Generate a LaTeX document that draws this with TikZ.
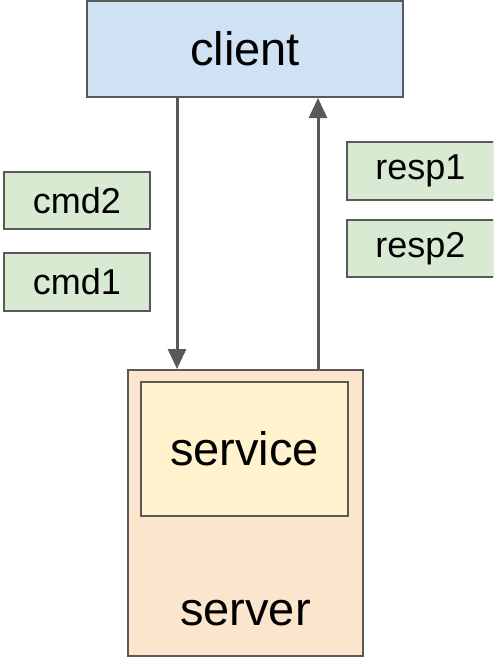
\documentclass[tikz,border=0pt]{standalone}
\usepackage{fontspec}
\setmainfont{Liberation Sans}
\usetikzlibrary{arrows.meta}
\definecolor{clientblue}{HTML}{CFE2F3}
\definecolor{msggreen}{HTML}{D9EAD3}
\definecolor{serverpeach}{HTML}{FCE5CD}
\definecolor{serviceyellow}{HTML}{FFF2CC}
\definecolor{edgegray}{HTML}{595959}
\tikzset{
  box/.style={draw=edgegray, line width=2pt, rectangle, inner sep=0pt},
  bigtext/.style={font=\fontsize{47}{56}\selectfont},
  msg/.style={box, line width=1.5pt, fill=msggreen, minimum width=146pt,
    font=\fontsize{36}{43}\selectfont},
  flow/.style={draw=edgegray, line width=3pt,
    -{Triangle[length=20pt,width=18pt]}}
}
\begin{document}
\begin{tikzpicture}[x=1pt,y=-1pt]
  \useasboundingbox (0,0) rectangle (493,659);
  \begin{scope}
    \clip (0,0) rectangle (493,659);
    % client at the top
    \node[box, bigtext, fill=clientblue, minimum width=316pt, minimum height=96pt]
      (client) at (245,49) {client};
    % queued commands and responses
    \node[msg, minimum height=57pt] (cmd2) at (77,200.5) {cmd2};
    \node[msg, minimum height=58pt] (cmd1) at (77,282) {cmd1};
    \node[msg, minimum width=147pt, minimum height=58pt] (resp1) at (420.5,171) {resp1};
    \node[msg, minimum width=147pt, minimum height=57pt] (resp2) at (420.5,248.5) {resp2};
    % server holding the service
    \node[box, fill=serverpeach, minimum width=235pt, minimum height=286pt]
      (server) at (245.5,513) {};
    \node[box, bigtext, fill=serviceyellow, minimum width=207pt, minimum height=134pt]
      (service) at (244.5,449) {service};
    \node[bigtext, anchor=base, inner sep=0pt] (serverlabel) at (245.5,625) {server};
    % request and response channels
    \coordinate (down) at (177,0);
    \coordinate (up) at (318,0);
    \draw[flow] (down |- client.south) -- (down |- server.north);
    \draw[flow] (up |- server.north) -- (up |- client.south);
  \end{scope}
\end{tikzpicture}
\end{document}
